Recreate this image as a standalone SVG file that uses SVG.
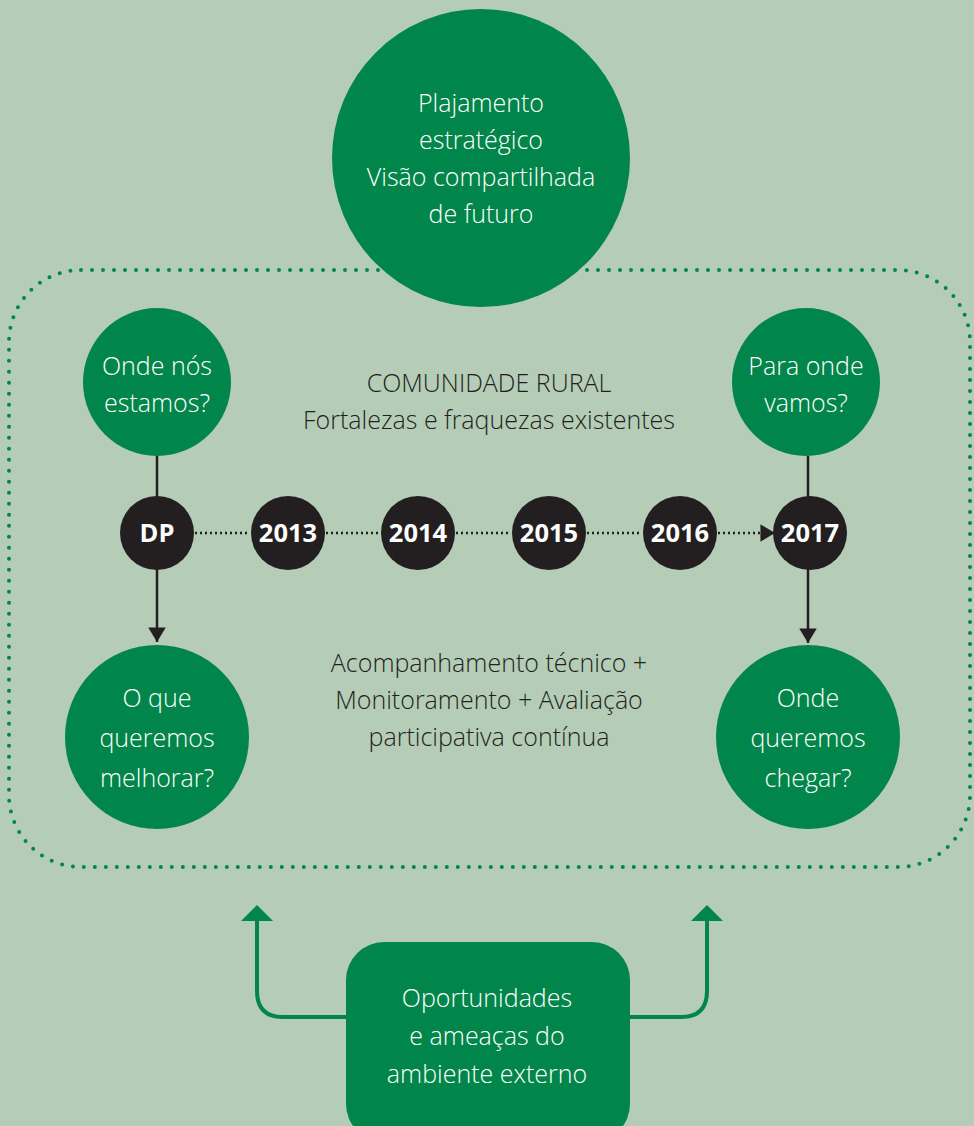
<svg xmlns="http://www.w3.org/2000/svg" width="974" height="1126" viewBox="0 0 974 1126">
<defs>
<style>
.g{fill:#00864a}
.k{fill:#231f20}
.t{font-family:"Open Sans","Liberation Sans",sans-serif;font-weight:300;fill:#ffffff;font-size:25px;text-anchor:middle}
.d{font-family:"Open Sans","Liberation Sans",sans-serif;font-weight:300;fill:#231f20;font-size:25px;text-anchor:middle}
.y{font-family:"Open Sans","Liberation Sans",sans-serif;font-weight:700;fill:#ffffff;font-size:25.5px;text-anchor:middle}
.dot{fill:none;stroke:#231f20;stroke-width:2.5;stroke-dasharray:2 3}
.ln{fill:none;stroke:#231f20;stroke-width:2.5}
.ga{fill:none;stroke:#00864a;stroke-width:4}
</style>
<marker id="ah" viewBox="0 0 10 12" refX="10" refY="6" markerWidth="6" markerHeight="7" markerUnits="strokeWidth" orient="auto"><path d="M0,0 L10,6 L0,12 z" fill="#231f20"/></marker>
</defs>
<rect width="974" height="1126" fill="#b5cdb7"/>
<rect x="9" y="270" width="961" height="597" rx="72" ry="72" fill="none" stroke="#00864a" stroke-width="4" stroke-linecap="round" stroke-dasharray="0 11"/>
<g id="connectors">
<line class="ln" x1="157" y1="456" x2="157" y2="500"/>
<line class="ln" x1="157" y1="568" x2="157" y2="642" marker-end="url(#ah)"/>
<line class="ln" x1="808" y1="456" x2="808" y2="500"/>
<line class="ln" x1="808" y1="568" x2="808" y2="643" marker-end="url(#ah)"/>
<line class="dot" x1="195" y1="533" x2="250" y2="533"/>
<line class="dot" x1="326" y1="533" x2="380" y2="533"/>
<line class="dot" x1="456" y1="533" x2="511" y2="533"/>
<line class="dot" x1="587" y1="533" x2="642" y2="533"/>
<line class="dot" x1="718" y1="533" x2="775" y2="533" marker-end="url(#ah)"/>
<path class="ga" d="M346,1017 H283 Q257,1017 257,991 V918"/>
<path d="M241,921 L257,905 L273,921 z" class="g"/>
<path class="ga" d="M630,1017 H681 Q707,1017 707,991 V918"/>
<path d="M691,921 L707,905 L723,921 z" class="g"/>
</g>
<g id="n-top">
<circle class="g" cx="481" cy="158" r="149"/>
<text class="t" x="481" y="112">Plajamento</text>
<text class="t" x="481" y="149">estratégico</text>
<text class="t" x="481" y="186">Visão compartilhada</text>
<text class="t" x="481" y="223">de futuro</text>
</g>
<g id="n-onde">
<circle class="g" cx="157" cy="382" r="74"/>
<text class="t" x="157" y="375">Onde nós</text>
<text class="t" x="157" y="412">estamos?</text>
</g>
<g id="n-para">
<circle class="g" cx="806" cy="382" r="74"/>
<text class="t" x="806" y="375">Para onde</text>
<text class="t" x="806" y="412">vamos?</text>
</g>
<g id="n-comunidade">
<text class="d" x="489" y="392">COMUNIDADE RURAL</text>
<text class="d" x="489" y="429">Fortalezas e fraquezas existentes</text>
</g>
<g id="n-acomp">
<text class="d" x="489" y="672">Acompanhamento técnico +</text>
<text class="d" x="489" y="709">Monitoramento + Avaliação</text>
<text class="d" x="489" y="746">participativa contínua</text>
</g>
<g id="n-oque">
<circle class="g" cx="157" cy="737" r="92"/>
<text class="t" x="157" y="707">O que</text>
<text class="t" x="157" y="747">queremos</text>
<text class="t" x="157" y="787">melhorar?</text>
</g>
<g id="n-chegar">
<circle class="g" cx="808" cy="737" r="92"/>
<text class="t" x="808" y="707">Onde</text>
<text class="t" x="808" y="747">queremos</text>
<text class="t" x="808" y="787">chegar?</text>
</g>
<g id="n-dp"><circle class="k" cx="157" cy="533" r="37"/><text class="y" x="157" y="542">DP</text></g>
<g id="n-2013"><circle class="k" cx="288" cy="533" r="37"/><text class="y" x="288" y="542">2013</text></g>
<g id="n-2014"><circle class="k" cx="418" cy="533" r="37"/><text class="y" x="418" y="542">2014</text></g>
<g id="n-2015"><circle class="k" cx="549" cy="533" r="37"/><text class="y" x="549" y="542">2015</text></g>
<g id="n-2016"><circle class="k" cx="680" cy="533" r="37"/><text class="y" x="680" y="542">2016</text></g>
<g id="n-2017"><circle class="k" cx="810" cy="533" r="37"/><text class="y" x="810" y="542">2017</text></g>
<g id="n-ext">
<rect class="g" x="346" y="942" width="284" height="200" rx="38" ry="38"/>
<text class="t" x="487" y="1007">Oportunidades</text>
<text class="t" x="487" y="1045">e ameaças do</text>
<text class="t" x="487" y="1083">ambiente externo</text>
</g>
</svg>
